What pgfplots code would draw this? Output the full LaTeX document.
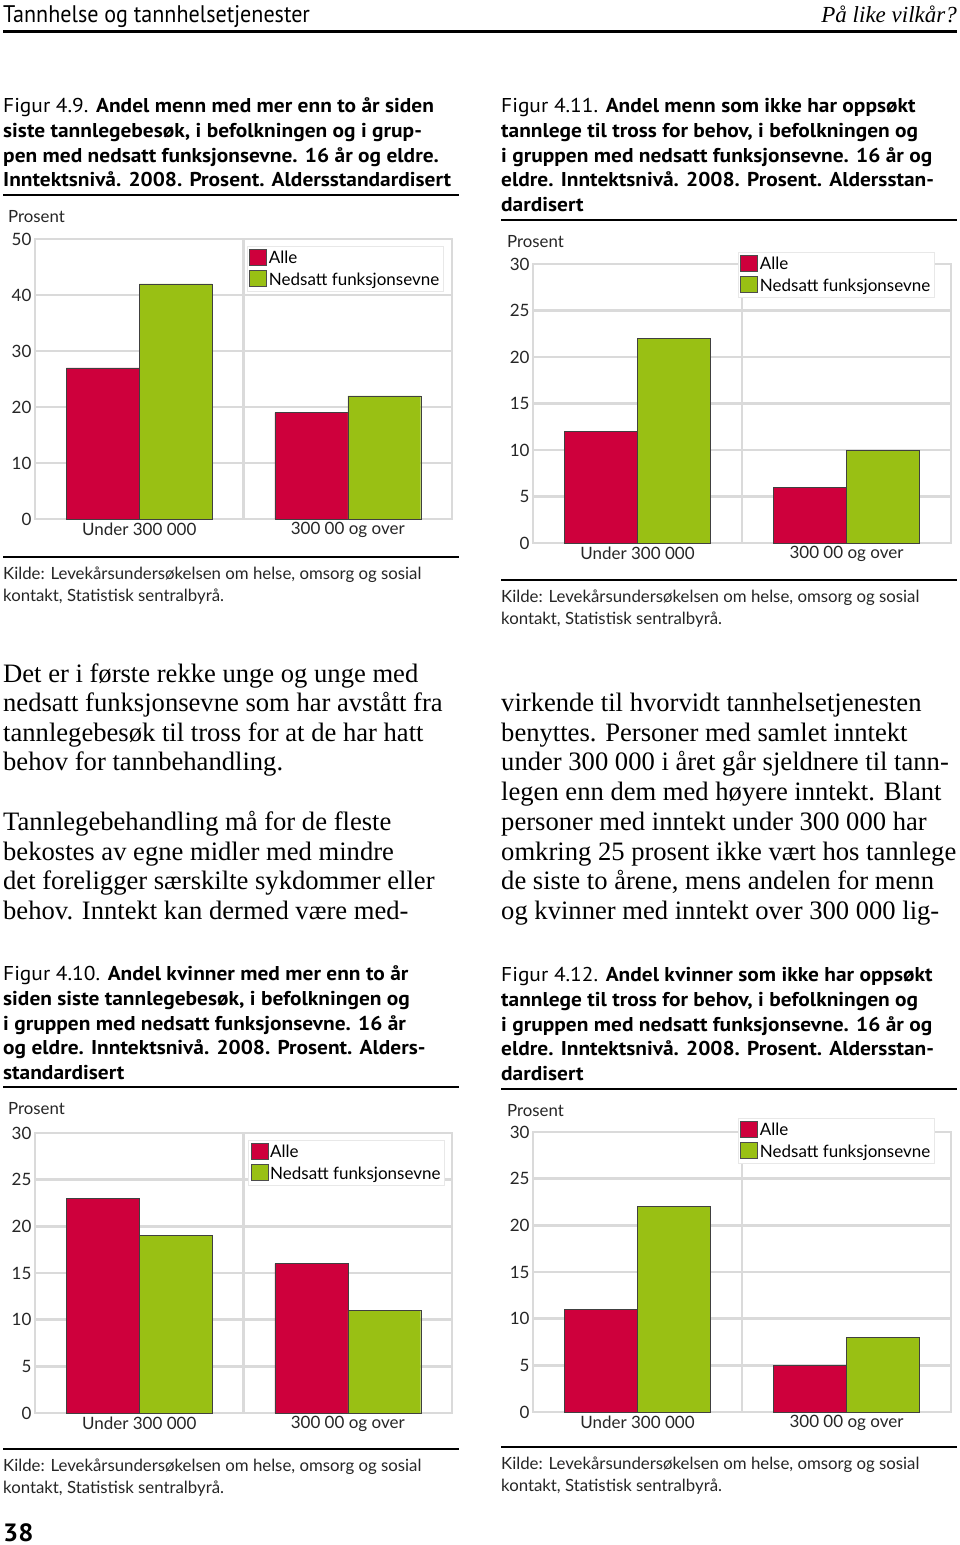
\documentclass[border=0pt]{standalone}
\usepackage{fontspec}
\usepackage{pgfplots}
\pgfplotsset{compat=1.18}
\setmainfont{Liberation Serif}
\newfontfamily\chartfont{Lato}
\newfontfamily\capfont[FakeStretch=1.07]{PT Sans}
\newfontfamily\headfont[FakeStretch=0.92]{PT Sans}
\definecolor{alle}{RGB}{206,0,60}
\definecolor{ned}{RGB}{153,192,20}
\definecolor{gridg}{RGB}{218,218,218}
\definecolor{legb}{RGB}{232,232,232}
\pgfplotsset{mychart/.style={
  scale only axis, width=417pt, height=280pt, anchor=south west,
  xmin=-0.5, xmax=1.5, ymin=0,
  xtick={0,1}, xticklabels={Under 300 000, 300 00 og over},
  extra x ticks={0.5}, extra x tick labels={},
  extra x tick style={grid=major},
  ymajorgrids, grid style={gridg, line width=2.6pt},
  axis line style={gridg, line width=2.6pt},
  major tick length=0pt,
  ybar, bar width=0.35,
  tick label style={font=\chartfont\fontsize{17}{17}\selectfont, text=black!85},
  /pgf/number format/assume math mode=true,
  legend style={draw=legb, fill=white, line width=1pt,
    font=\chartfont\fontsize{17}{17}\selectfont,
    inner xsep=2pt, inner ysep=2.5pt, row sep=3pt, cells={anchor=west}},
  legend image code/.code={\draw[##1, draw=black!70, line width=0.6pt] (0pt,-7pt) rectangle (17pt,9pt);},
}}
\newcommand\capt[1]{\capfont\fontsize{20}{24}\selectfont #1}
\begin{document}
\begin{tikzpicture}[x=1pt,y=1pt]
\path[use as bounding box] (0,0) rectangle (960,-1545);
\fill[white] (0,0) rectangle (960,-1545);
% header
\node[anchor=base west, inner sep=0] at (3,-22) {\headfont\fontsize{24}{28}\selectfont Tannhelse og tannhelsetjenester};
\node[anchor=base east, inner sep=0] at (957,-22) {\fontsize{23}{28}\selectfont\itshape På like vilkår?};
\draw[line width=3pt] (3,-31) -- (957,-31);
% captions
\begin{scope}[every node/.style={anchor=base west, inner sep=0}]
\node at (3,-112) {\capt{Figur 4.9. \textbf{Andel menn med mer enn to år siden}}};
\node at (3,-137) {\capt{\textbf{siste tannlegebesøk, i befolkningen og i grup-}}};
\node at (3,-162) {\capt{\textbf{pen med nedsatt funksjonsevne. 16 år og eldre.}}};
\node at (3,-186) {\capt{\textbf{Inntektsnivå. 2008. Prosent. Aldersstandardisert}}};
\node at (501,-112) {\capt{Figur 4.11. \textbf{Andel menn som ikke har oppsøkt}}};
\node at (501,-137) {\capt{\textbf{tannlege til tross for behov, i befolkningen og}}};
\node at (501,-162) {\capt{\textbf{i gruppen med nedsatt funksjonsevne. 16 år og}}};
\node at (501,-186) {\capt{\textbf{eldre. Inntektsnivå. 2008. Prosent. Aldersstan-}}};
\node at (501,-211) {\capt{\textbf{dardisert}}};
\node at (3,-980) {\capt{Figur 4.10. \textbf{Andel kvinner med mer enn to år}}};
\node at (3,-1005) {\capt{\textbf{siden siste tannlegebesøk, i befolkningen og}}};
\node at (3,-1030) {\capt{\textbf{i gruppen med nedsatt funksjonsevne. 16 år}}};
\node at (3,-1054) {\capt{\textbf{og eldre. Inntektsnivå. 2008. Prosent. Alders-}}};
\node at (3,-1079) {\capt{\textbf{standardisert}}};
\node at (501,-981) {\capt{Figur 4.12. \textbf{Andel kvinner som ikke har oppsøkt}}};
\node at (501,-1006) {\capt{\textbf{tannlege til tross for behov, i befolkningen og}}};
\node at (501,-1031) {\capt{\textbf{i gruppen med nedsatt funksjonsevne. 16 år og}}};
\node at (501,-1055) {\capt{\textbf{eldre. Inntektsnivå. 2008. Prosent. Aldersstan-}}};
\node at (501,-1080) {\capt{\textbf{dardisert}}};
% body
\begin{scope}[every node/.append style={font=\fontsize{26.6}{29}\selectfont}]
\node at (3,-682) {Det er i første rekke unge og unge med};
\node at (3,-711) {nedsatt funksjonsevne som har avstått fra};
\node at (3,-741) {tannlegebesøk til tross for at de har hatt};
\node at (3,-770) {behov for tannbehandling.};
\node at (3,-830) {Tannlegebehandling må for de fleste};
\node at (3,-860) {bekostes av egne midler med mindre};
\node at (3,-889) {det foreligger særskilte sykdommer eller};
\node at (3,-919) {behov. Inntekt kan dermed være med-};
\node at (501,-711) {virkende til hvorvidt tannhelsetjenesten};
\node at (501,-741) {benyttes. Personer med samlet inntekt};
\node at (501,-770) {under 300 000 i året går sjeldnere til tann-};
\node at (501,-800) {legen enn dem med høyere inntekt. Blant};
\node at (501,-830) {personer med inntekt under 300 000 har};
\node at (501,-860) {omkring 25 prosent ikke vært hos tannlege};
\node at (501,-889) {de siste to årene, mens andelen for menn};
\node at (501,-919) {og kvinner med inntekt over 300 000 lig-};
\end{scope}
% chart small texts
\begin{scope}[every node/.append style={font=\chartfont\fontsize{16.8}{22}\selectfont, text=black!85}]
\node at (8,-222) {Prosent};
\node at (507,-247) {Prosent};
\node at (8,-1114) {Prosent};
\node at (507,-1116) {Prosent};
\node at (3,-579) {Kilde: Levekårsundersøkelsen om helse, omsorg og sosial};
\node at (3,-601) {kontakt, Statistisk sentralbyrå.};
\node at (501,-602) {Kilde: Levekårsundersøkelsen om helse, omsorg og sosial};
\node at (501,-624) {kontakt, Statistisk sentralbyrå.};
\node at (3,-1471) {Kilde: Levekårsundersøkelsen om helse, omsorg og sosial};
\node at (3,-1493) {kontakt, Statistisk sentralbyrå.};
\node at (501,-1469) {Kilde: Levekårsundersøkelsen om helse, omsorg og sosial};
\node at (501,-1491) {kontakt, Statistisk sentralbyrå.};
\end{scope}
\node at (3,-1541) {\capfont\fontsize{25}{28}\selectfont\bfseries 38};
\end{scope}
% rules
\draw[line width=1.6pt] (3,-195) -- (459,-195);
\draw[line width=1.6pt] (501,-220) -- (957,-220);
\draw[line width=1.6pt] (3,-1087) -- (459,-1087);
\draw[line width=1.6pt] (501,-1089) -- (957,-1089);
\draw[line width=1.2pt] (3,-557) -- (459,-557);
\draw[line width=1.2pt] (501,-580) -- (957,-580);
\draw[line width=1.2pt] (3,-1449) -- (459,-1449);
\draw[line width=1.2pt] (501,-1447) -- (957,-1447);
% Figur 4.9
\begin{axis}[mychart, at={(35pt,-519pt)}, ymax=50, ytick={0,10,...,50},
  legend style={at={(0.508,0.975)}, anchor=north west}]
\addplot[fill=alle, draw=black!75, bar shift=-0.175] coordinates {(0,27) (1,19)};
\addplot[fill=ned, draw=black!75, bar shift=0.175] coordinates {(0,42) (1,22)};
\legend{Alle, Nedsatt funksjonsevne}
\end{axis}
% Figur 4.11
\begin{axis}[mychart, at={(533pt,-543pt)}, width=418pt, height=279pt, ymax=30, ytick={0,5,...,30},
  legend style={at={(0.49,1.043)}, anchor=north west}]
\addplot[fill=alle, draw=black!75, bar shift=-0.175] coordinates {(0,12) (1,6)};
\addplot[fill=ned, draw=black!75, bar shift=0.175] coordinates {(0,22) (1,10)};
\legend{Alle, Nedsatt funksjonsevne}
\end{axis}
% Figur 4.10
\begin{axis}[mychart, at={(35pt,-1413pt)}, ymax=30, ytick={0,5,...,30},
  legend style={at={(0.511,0.975)}, anchor=north west}]
\addplot[fill=alle, draw=black!75, bar shift=-0.175] coordinates {(0,23) (1,16)};
\addplot[fill=ned, draw=black!75, bar shift=0.175] coordinates {(0,19) (1,11)};
\legend{Alle, Nedsatt funksjonsevne}
\end{axis}
% Figur 4.12
\begin{axis}[mychart, at={(533pt,-1412pt)}, width=418pt, ymax=30, ytick={0,5,...,30},
  legend style={at={(0.49,1.05)}, anchor=north west}]
\addplot[fill=alle, draw=black!75, bar shift=-0.175] coordinates {(0,11) (1,5)};
\addplot[fill=ned, draw=black!75, bar shift=0.175] coordinates {(0,22) (1,8)};
\legend{Alle, Nedsatt funksjonsevne}
\end{axis}
\end{tikzpicture}
\end{document}
